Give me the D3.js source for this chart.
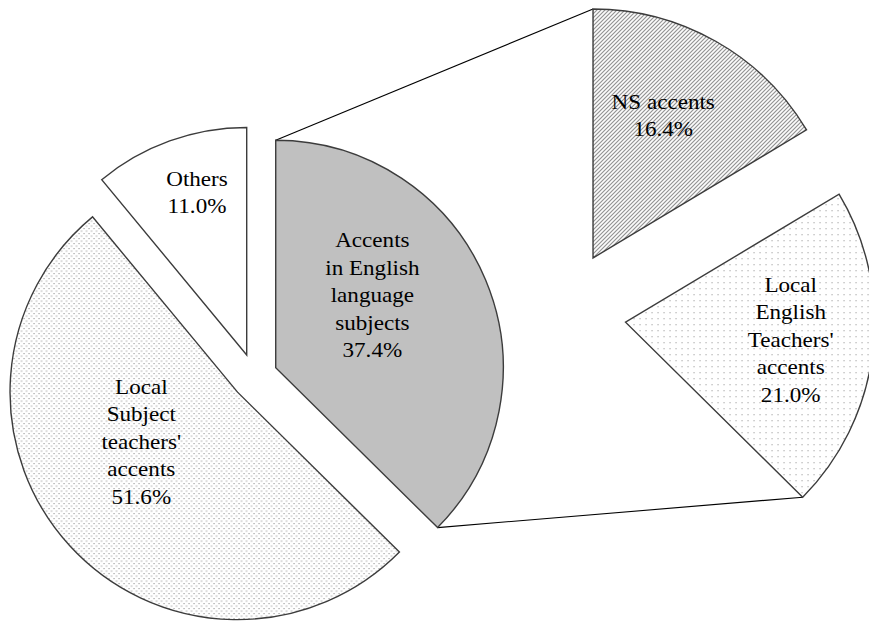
<!DOCTYPE html>
<html>
<head>
<meta charset="utf-8">
<script src="https://cdn.jsdelivr.net/npm/d3@7/dist/d3.min.js"></script>
<style>
  html, body { margin: 0; padding: 0; background: #fff; }
  svg { display: block; }
</style>
</head>
<body>
<div id="chart"></div>
<script>
// Main pie: share of respondents (%)
const mainCategories = ["Accents in English language subjects", "Local Subject teachers' accents", "Others"];
const mainValues = [37.4, 51.6, 11.0];
const mainLabels = [
  ["Accents", "in English", "language", "subjects", "37.4%"],
  ["Local", "Subject", "teachers'", "accents", "51.6%"],
  ["Others", "11.0%"]
];

// Breakdown of "Accents in English language subjects" (%)
const subCategories = ["NS accents", "Local English Teachers' accents"];
const subValues = [16.4, 21.0];
const subLabels = [
  ["NS accents", "16.4%"],
  ["Local", "English", "Teachers'", "accents", "21.0%"]
];

const width = 869, height = 621;

// Layout
const mainCenter = [254.5, 376.6], mainR = 227.5, mainExplode = 23;
const subCenter = [561, 314.5], subR = 249, subExplode = 65;
const lineH = 27.5;
const fontFamily = "'Liberation Serif', 'Times New Roman', Times, serif";
// label anchors relative to each slice apex: [angle in degrees, distance]
const mainLabelPos = [[53, 121], [243, 108], [343, 170]];
const subLabelPos = [[26.2, 159], [95.9, 166]];

const svg = d3.select("#chart").append("svg")
  .attr("width", width).attr("height", height);

const defs = svg.append("defs");
// diagonal hatching
const hatch = defs.append("pattern").attr("id", "hatch")
  .attr("patternUnits", "userSpaceOnUse").attr("width", 4).attr("height", 4);
hatch.append("rect").attr("width", 4).attr("height", 4).attr("fill", "#fff");
hatch.append("path").attr("d", "M-1,1 l2,-2 M0,4 l4,-4 M3,5 l2,-2")
  .attr("stroke", "#8a8a8a").attr("stroke-width", 1.1);
// sparse dots
const dotsSparse = defs.append("pattern").attr("id", "dotsSparse")
  .attr("patternUnits", "userSpaceOnUse").attr("width", 6).attr("height", 6);
dotsSparse.append("rect").attr("width", 6).attr("height", 6).attr("fill", "#fff");
dotsSparse.append("rect").attr("x", 2).attr("y", 2).attr("width", 1).attr("height", 1).attr("fill", "#8a8a8a");
// dense dots
const dotsDense = defs.append("pattern").attr("id", "dotsDense")
  .attr("patternUnits", "userSpaceOnUse").attr("width", 5).attr("height", 5);
dotsDense.append("rect").attr("width", 5).attr("height", 5).attr("fill", "#fff");
dotsDense.append("rect").attr("x", 1).attr("y", 1).attr("width", 1).attr("height", 1).attr("fill", "#7a7a7a");
dotsDense.append("rect").attr("x", 3.5).attr("y", 3.5).attr("width", 1).attr("height", 1).attr("fill", "#7a7a7a");

const mainFills = ["#c0c0c0", "url(#dotsDense)", "#ffffff"];
const subFills = ["url(#hatch)", "url(#dotsSparse)"];

const toRad = d => d * Math.PI / 180;
const polar = (c, a, r) => [c[0] + r * Math.sin(a), c[1] - r * Math.cos(a)];

const mainPie = d3.pie().sort(null).value(d => d)
  .startAngle(0).endAngle(2 * Math.PI);
const mainArcs = mainPie(mainValues);

// the breakdown covers the same angular span as its parent slice
const parent = mainArcs[0];
const subPie = d3.pie().sort(null).value(d => d)
  .startAngle(parent.startAngle).endAngle(parent.endAngle);
const subArcs = subPie(subValues);

const mainArc = d3.arc().innerRadius(0).outerRadius(mainR);
const subArc = d3.arc().innerRadius(0).outerRadius(subR);

function apex(center, d, explode) {
  return polar(center, (d.startAngle + d.endAngle) / 2, explode);
}

// connector lines between the parent slice and the breakdown
const pA = apex(mainCenter, parent, mainExplode);
const sFirst = subArcs[0], sLast = subArcs[subArcs.length - 1];
const aFirst = apex(subCenter, sFirst, subExplode);
const aLast = apex(subCenter, sLast, subExplode);
const connectors = [
  [polar(pA, parent.startAngle, mainR), polar(aFirst, sFirst.startAngle, subR)],
  [polar(pA, parent.endAngle, mainR), polar(aLast, sLast.endAngle, subR)]
];
svg.append("g").selectAll("line").data(connectors).join("line")
  .attr("x1", d => d[0][0]).attr("y1", d => d[0][1])
  .attr("x2", d => d[1][0]).attr("y2", d => d[1][1])
  .attr("stroke", "#000").attr("stroke-width", 1.1);

function drawSlices(arcs, center, explode, arcGen, fills) {
  svg.append("g").selectAll("path").data(arcs).join("path")
    .attr("transform", d => `translate(${apex(center, d, explode)})`)
    .attr("d", arcGen)
    .attr("fill", (d, i) => fills[i])
    .attr("stroke", "#3c3c3c")
    .attr("stroke-width", 1.4)
    .attr("stroke-linejoin", "miter");
}
drawSlices(mainArcs, mainCenter, mainExplode, mainArc, mainFills);
drawSlices(subArcs, subCenter, subExplode, subArc, subFills);

function drawLabels(arcs, center, explode, labels, pos) {
  arcs.forEach((d, i) => {
    const a = apex(center, d, explode);
    const p = polar(a, toRad(pos[i][0]), pos[i][1]);
    const lines = labels[i];
    const y0 = p[1] - (lines.length - 1) * lineH / 2;
    const g = svg.append("g");
    lines.forEach((t, k) => {
      g.append("text")
        .attr("font-family", fontFamily)
        .attr("font-size", 21)
        .attr("fill", "#000")
        .attr("text-anchor", "middle")
        .attr("dy", "0.35em")
        .attr("transform", `translate(${p[0]},${y0 + k * lineH}) scale(1.1,1)`)
        .text(t);
    });
  });
}
drawLabels(mainArcs, mainCenter, mainExplode, mainLabels, mainLabelPos);
drawLabels(subArcs, subCenter, subExplode, subLabels, subLabelPos);
</script>
</body>
</html>
